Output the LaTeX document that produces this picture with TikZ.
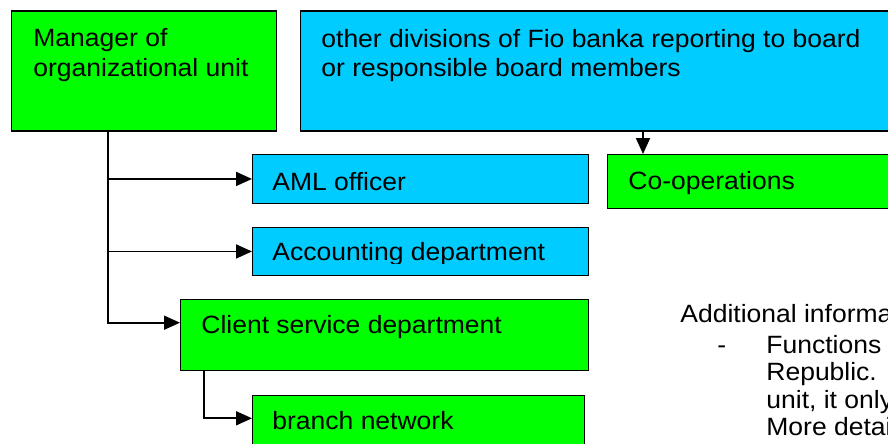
\documentclass[tikz,border=0pt]{standalone}
\usepackage{fontspec}
\setmainfont{Liberation Sans}[FakeStretch=1.06]
\usepackage{tikz}
\usetikzlibrary{positioning, arrows.meta}
\definecolor{unitgreen}{HTML}{00FF00}
\definecolor{unitblue}{HTML}{00CCFF}
\tikzset{
    unit/.style={draw, line width=0.7pt, rectangle, inner sep=0pt, anchor=north west},
    boxtext/.style={inner sep=0pt, font=\fontsize{12.5}{14.8}\selectfont, align=left},
    link/.style={line width=0.9pt, -{Triangle[length=8pt, width=7pt]}}
}

\begin{document}
\begin{tikzpicture}[x=0.5pt, y=-0.5pt]
    \useasboundingbox (0,0) rectangle (888,444);
    \clip (0,0) rectangle (888,444);

    \node[unit, fill=unitgreen, minimum width=132.5pt, minimum height=60pt] (mgr) at (11,10.5) {};
    \node[unit, fill=unitblue, minimum width=350pt, minimum height=60pt] (other) at (299.5,10.5) {};
    \node[unit, fill=unitgreen, minimum width=196.5pt, minimum height=27pt] (coop) at (607,154) {};
    \node[unit, fill=unitblue, minimum width=168pt, minimum height=24.25pt] (aml) at (252,154) {};
    \node[unit, fill=unitblue, minimum width=168pt, minimum height=24.25pt] (acct) at (252,226.5) {};
    \node[unit, fill=unitgreen, minimum width=204pt, minimum height=35.5pt] (client) at (180,299) {};
    \node[unit, fill=unitgreen, minimum width=166pt, minimum height=40pt] (branch) at (252,395) {};

    \node[boxtext, anchor=north west] (mgrtext) at (33,28.5) {Manager of\\organizational unit};
    \node[boxtext, anchor=north west] (othertext) at (321,28.5)
        {other divisions of Fio banka reporting to board\\or responsible board members};
    \node[boxtext, anchor=base west] (cooptext) at (628,189) {Co-operations};
    \node[boxtext, anchor=base west] (amltext) at (272,190) {AML officer};
    \begin{scope}
        \clip (250,227) rectangle (590,263);
        \node[boxtext, anchor=base west] (accttext) at (272,260.5) {Accounting department};
    \end{scope}
    \node[boxtext, anchor=base west] (clienttext) at (201,333) {Client service department};
    \node[boxtext, anchor=base west] (branchtext) at (272,429) {branch network};

    \node[boxtext, anchor=base west] (info) at (680,322) {Additional informa};
    \node[boxtext, anchor=base west] (dash) at (717,353) {-};
    \node[boxtext, anchor=north west, font=\fontsize{12.5}{13.7}\selectfont] (infoitem) at (766,335)
        {Functions\\Republic. I\\unit, it only\\More detai};

    \coordinate (trunk) at ([xshift=48.5pt]mgr.south west);
    \coordinate (coopin) at ([xshift=18pt]coop.north west);
    \draw[link] (trunk) |- (aml.west);
    \draw[link] (trunk) |- (acct.west);
    \draw[link] (trunk) |- ([yshift=6.25pt]client.west);
    \draw[link] ([xshift=12pt]client.south west) |- ([yshift=-11.65pt]branch.north west);
    \draw[link] (coopin |- other.south) -- (coopin);
\end{tikzpicture}
\end{document}
